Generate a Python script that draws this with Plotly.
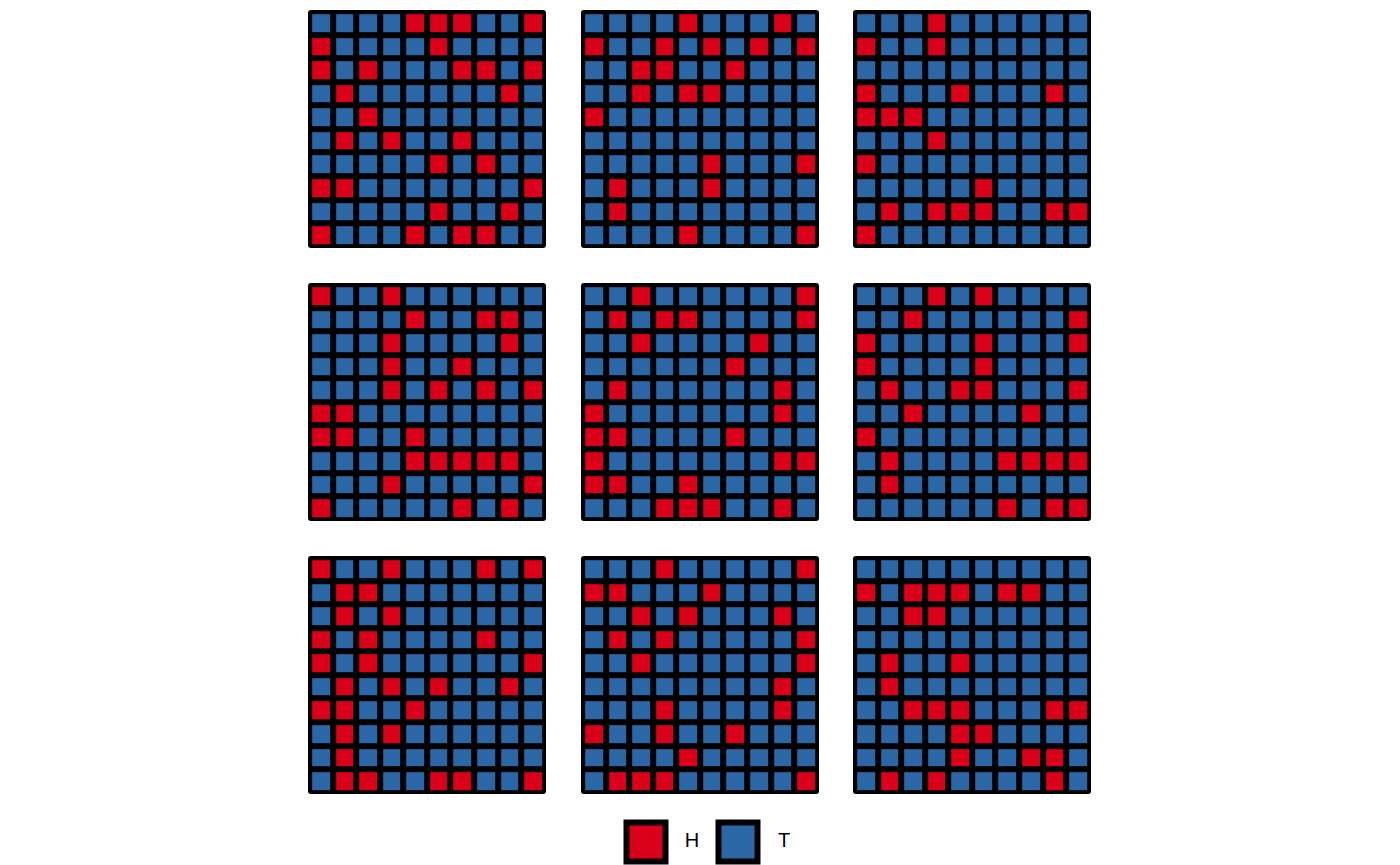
import plotly.graph_objects as go

# Coin-flip outcomes, 9 panels of 10 rows x 10 columns (top row first)
flips_1 = ["TTTTHHHTTH", "HTTTTHTTTT", "HTHTTTHHTH", "THTTTTTTHT", "TTHTTTTTTT",
           "THTHTTHTTT", "TTTTTHTHTT", "HHTTTTTTTH", "TTTTTHTTHT", "HTTTHTHHTT"]
flips_2 = ["TTTTHTTTHT", "HTTHTHTHTH", "TTHHTTHTTT", "TTHTHHTTTT", "HTTTTTTTTT",
           "TTTTTTTTTT", "TTTTTHTTTH", "THTTTHTTTT", "THTTTTTTTT", "TTTTHTTTTH"]
flips_3 = ["TTTHTTTTTT", "HTTHTTTTTT", "TTTTTTTTTT", "HTTTHTTTHT", "HHHTTTTTTT",
           "TTTHTTTTTT", "HTTTTTTTTT", "TTTTTHTTTT", "THTHHHTTHH", "HTTTTTTTTT"]
flips_4 = ["HTTHTTTTTT", "TTTTHTTHHT", "TTTHTTTTHT", "TTTHTTHTTT", "TTTHTHTHTH",
           "HHTTTTTTTT", "HHTTHTTTTT", "TTTTHHHHHT", "TTTHTTTTTH", "HTTTTTHTHT"]
flips_5 = ["TTHTTTTTTH", "THTHHTTTTH", "TTHTTTTHTT", "TTTTTTHTTT", "THTTTTTTHT",
           "HTTTTTTTHT", "HHTTTTHTTT", "HTTTTTTTHH", "HHTTHTTTTT", "TTTHHHTTHT"]
flips_6 = ["TTTHTHTTTT", "TTHTTTTTTH", "HTTTTHTTTH", "HTTTTHTTTT", "THTTHHTTTH",
           "TTHTTTTHTT", "HTTTTTTTTT", "THTTTTHHHH", "THTTTTTTTT", "TTTTTTHTHH"]
flips_7 = ["HTTHTTTHTH", "THHTTTTTTT", "THTHTTTTTT", "HTHTTTTHTT", "HTHTTTTTTH",
           "THTHTHTTHT", "HHTTHTTTTT", "THTHTTTTTT", "THTTTTTTTT", "THHTTHHTTH"]
flips_8 = ["TTTHTTTTTH", "HHTTTHTTTT", "TTHTHTTTHT", "THTHTTTTTH", "TTHTTTTTTH",
           "TTTTTTTTHT", "TTTHTTTTHT", "HTTHTTHTTT", "TTTTHTTTTT", "THHHTTTTTH"]
flips_9 = ["TTTTTTTTTT", "HTHHHTHHTT", "TTHHTTTTTT", "TTTTTTTTTT", "THTTHTTTTT",
           "THTTTTTTTT", "TTHHHTTTHH", "TTTTHHTTTT", "TTTTHTTHHT", "THTHTTTTHT"]

panels = [flips_1, flips_2, flips_3, flips_4, flips_5, flips_6, flips_7, flips_8, flips_9]
legend_labels = ["H", "T"]
colors = {"H": "#DB0019", "T": "#2B66A6"}

W, H = 1400, 865
col_left = [308, 581, 853]
row_top = [10, 283, 556]
size = 238

fig = go.Figure()
layout = dict(width=W, height=H, margin=dict(l=0, r=0, t=0, b=0),
              paper_bgcolor="white", plot_bgcolor="rgba(0,0,0,0)", showlegend=False)

pad = 0.55
for i, grid in enumerate(panels):
    r, c = divmod(i, 3)
    n = i + 1
    xa = "x" if n == 1 else f"x{n}"
    ya = "y" if n == 1 else f"y{n}"
    z = [[1 if ch == "H" else 0 for ch in row] for row in grid]
    text = [[ch for ch in row] for row in grid]
    fig.add_trace(go.Heatmap(
        z=z, text=text, xaxis=xa, yaxis=ya,
        zmin=0, zmax=1,
        colorscale=[[0, colors["T"]], [0.5, colors["T"]], [0.5, colors["H"]], [1, colors["H"]]],
        showscale=False, xgap=6, ygap=6, hoverinfo="text"))
    x0 = col_left[c] / W
    x1 = (col_left[c] + size) / W
    y1 = 1 - row_top[r] / H
    y0 = 1 - (row_top[r] + size) / H
    key = "xaxis" if n == 1 else f"xaxis{n}"
    ykey = "yaxis" if n == 1 else f"yaxis{n}"
    layout[key] = dict(domain=[x0, x1], range=[-pad, 9 + pad], visible=False,
                       anchor=ya, fixedrange=True)
    layout[ykey] = dict(domain=[y0, y1], range=[9 + pad, -pad], visible=False,
                        anchor=xa, fixedrange=True)

# Legend drawn as its own small panel
lx = 10
fig.add_trace(go.Scatter(
    x=[0, 1], y=[0, 0], mode="markers", xaxis=f"x{lx}", yaxis=f"y{lx}",
    marker=dict(symbol="square", size=39,
                color=[colors[k] for k in legend_labels],
                line=dict(color="black", width=6)),
    hoverinfo="skip"))
fig.add_trace(go.Scatter(
    x=[0.5, 1.5], y=[0, 0], mode="text", text=legend_labels,
    xaxis=f"x{lx}", yaxis=f"y{lx}",
    textfont=dict(family="Liberation Sans, Arial, sans-serif", size=20, color="black"),
    hoverinfo="skip"))
layout[f"xaxis{lx}"] = dict(domain=[600 / W, 800 / W], range=[-0.5, -0.5 + 200 / 92],
                            visible=False, anchor=f"y{lx}", fixedrange=True)
layout[f"yaxis{lx}"] = dict(domain=[0, 46 / H], range=[-1, 1],
                            visible=False, anchor=f"x{lx}", fixedrange=True)

fig.update_layout(**layout)

# black backing squares behind each panel (slightly rounded frame)
shapes = []
for i in range(9):
    r, c = divmod(i, 3)
    xl, xr = col_left[c], col_left[c] + size
    yt, yb = H - row_top[r], H - row_top[r] - size
    rr = 3
    pts = [("M", xl + rr, yb), ("L", xr - rr, yb), ("Q", xr, yb), ("", xr, yb + rr),
           ("L", xr, yt - rr), ("Q", xr, yt), ("", xr - rr, yt), ("L", xl + rr, yt),
           ("Q", xl, yt), ("", xl, yt - rr), ("L", xl, yb + rr), ("Q", xl, yb),
           ("", xl + rr, yb)]
    path = " ".join(f"{cmd} {px / W},{py / H}".strip() for cmd, px, py in pts) + " Z"
    shapes.append(dict(type="path", xref="paper", yref="paper", layer="below",
                       path=path, fillcolor="black", line=dict(width=0)))
fig.update_layout(shapes=shapes)

fig.write_html("out.html", config={"displayModeBar": False},
               post_script="document.body.style.margin='0';")
